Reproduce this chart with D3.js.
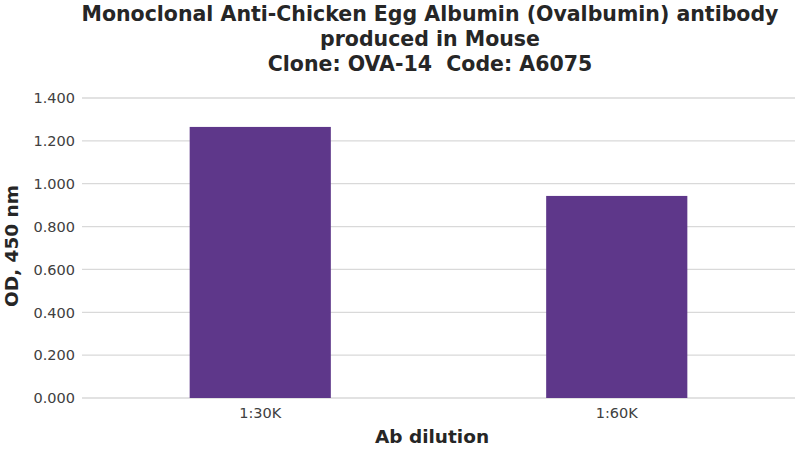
<!DOCTYPE html>
<html><head><meta charset="utf-8">
<script src="https://cdn.jsdelivr.net/npm/d3@7"></script>
<style>body{margin:0;background:#fff}svg{display:block}text{font-family:"DejaVu Sans",Verdana,sans-serif;white-space:pre}</style>
</head><body><svg id="c" width="800" height="450"></svg>
<script>
const categories = ["1:30K", "1:60K"];
const values = [1.265, 0.943];
const yTicks = [0, 0.2, 0.4, 0.6, 0.8, 1.0, 1.2, 1.4];
const titleLines = ["Monoclonal Anti-Chicken Egg Albumin (Ovalbumin) antibody", "produced in Mouse", "Clone: OVA-14  Code: A6075"];

const svg = d3.select("#c");
const m = {left: 82, right: 795, top: 98, bottom: 398};
const x = d3.scaleBand().domain(categories).range([m.left, m.right]).paddingInner(0.604).paddingOuter(0.302);
const y = d3.scaleLinear().domain([0, 1.4]).range([m.bottom, m.top]);

svg.append("g").selectAll("line").data(yTicks).join("line")
  .attr("x1", m.left).attr("x2", m.right)
  .attr("y1", d => y(d)).attr("y2", d => y(d))
  .attr("stroke", "#d9d9d9").attr("stroke-width", 1.3);

svg.append("g").selectAll("text").data(yTicks).join("text")
  .attr("x", 75).attr("y", d => y(d)).attr("dy", "0.36em")
  .attr("text-anchor", "end").attr("font-size", 14.5).attr("fill", "#404040")
  .text(d => d3.format(".3f")(d));

svg.append("g").selectAll("rect").data(values).join("rect")
  .attr("x", (d, i) => x(categories[i])).attr("width", x.bandwidth())
  .attr("y", d => y(d)).attr("height", d => y(0) - y(d))
  .attr("fill", "#5e378a");

svg.append("g").selectAll("text").data(categories).join("text")
  .attr("x", d => x(d) + x.bandwidth() / 2).attr("y", 418)
  .attr("text-anchor", "middle").attr("font-size", 14.5).attr("fill", "#404040")
  .text(d => d);

svg.append("text").attr("x", 432).attr("y", 443).attr("text-anchor", "middle")
  .attr("font-size", 18.5).attr("font-weight", "bold").attr("fill", "#262626").text("Ab dilution");

svg.append("text").attr("transform", "translate(18,246) rotate(-90)").attr("text-anchor", "middle")
  .attr("font-size", 18.5).attr("font-weight", "bold").attr("fill", "#262626").text("OD, 450 nm");

svg.append("g").selectAll("text").data(titleLines).join("text")
  .attr("x", 430).attr("y", (d, i) => 21 + i * 25).attr("text-anchor", "middle")
  .attr("font-size", 20.5).attr("font-weight", "bold").attr("fill", "#262626").text(d => d);
</script></body></html>
